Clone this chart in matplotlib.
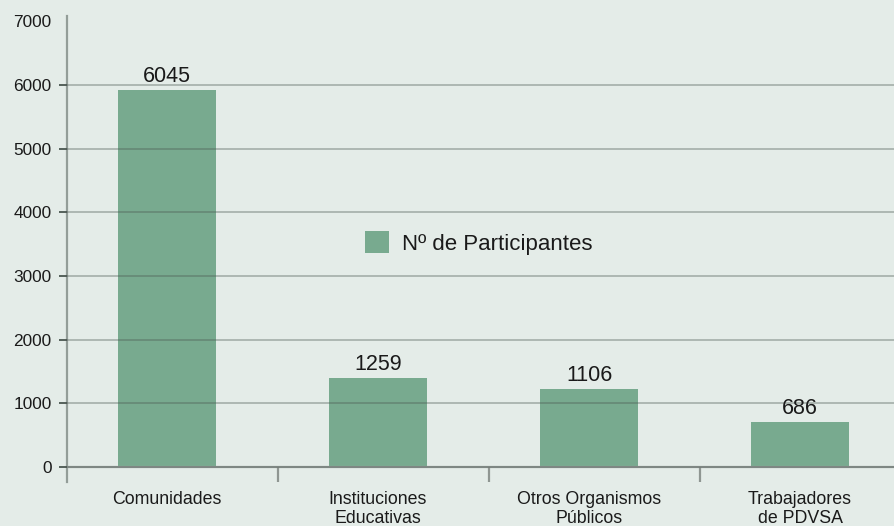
import matplotlib
matplotlib.use("Agg")
import matplotlib.pyplot as plt
import numpy as np
from matplotlib.patches import Patch

plt.rcParams["font.family"] = ["Liberation Sans", "DejaVu Sans"]

categories = ["Comunidades", "Instituciones\nEducativas", "Otros Organismos\nPúblicos", "Trabajadores\nde PDVSA"]
bar_heights = [5920, 1395, 1225, 705]  # as drawn in the picture
value_labels = ["6045", "1259", "1106", "686"]
y_ticks = [0, 1000, 2000, 3000, 4000, 5000, 6000, 7000]
legend_label = "Nº de Participantes"

BG = "#e4ece8"
BAR = "#78aa8f"
GRID = "#4a5650"
TEXT = "#1a1a1a"

fig = plt.figure(figsize=(8.94, 5.26), dpi=100, facecolor=BG)
ax = fig.add_axes([67 / 894, 44 / 526, 827 / 894, 466 / 526])
ax.set_facecolor(BG)

x = np.arange(len(categories))
ax.bar(x, bar_heights, width=0.46, color=BAR, zorder=1)

for xi, h, lab in zip(x, bar_heights, value_labels):
    ax.annotate(lab, (xi, h), xytext=(0, 6), textcoords="offset points",
                ha="center", va="baseline", fontsize=15.5, color=TEXT)

ax.set_xlim(-0.474, -0.474 + 827 / 211)
ax.set_ylim(-235, 7080)

# y axis
ax.set_yticks(y_ticks)
ax.set_yticklabels([str(v) for v in y_ticks], fontsize=12.4, color=TEXT)
ax.tick_params(axis="y", length=6, width=1.3, color=GRID, pad=5)
ax.yaxis.grid(True, color=GRID, alpha=0.38, linewidth=1.3, zorder=2)
ax.set_axisbelow(False)
ax.get_ygridlines()[-1].set_visible(False)
ax.yaxis.get_ticklines()[-2].set_visible(False)

# x axis
ax.spines["bottom"].set_position(("data", 0))
ax.set_xticks(x)
ax.set_xticklabels(categories, fontsize=12.8, color=TEXT, linespacing=1.2)
ax.tick_params(axis="x", which="major", length=0, pad=17)
ax.set_xticks(x[:-1] + 0.526, minor=True)
ax.tick_params(axis="x", which="minor", length=11, width=1.6, color="#8f9692")

for side in ["top", "right"]:
    ax.spines[side].set_visible(False)
ax.spines["left"].set_color("#939d98")
ax.spines["left"].set_linewidth(1.6)
ax.spines["bottom"].set_color("#9aa29e")
ax.spines["bottom"].set_linewidth(1.6)

handle = Patch(facecolor=BAR, edgecolor="none")
ax.legend([handle], [legend_label], loc="center left",
          bbox_to_anchor=((365 - 67) / 827, (482 - 243) / 466),
          frameon=False, fontsize=16, handlelength=1.08, handleheight=1.08,
          handletextpad=0.58, borderpad=0, borderaxespad=0, labelcolor=TEXT)

fig.savefig("out.png", dpi=100, facecolor=BG)
